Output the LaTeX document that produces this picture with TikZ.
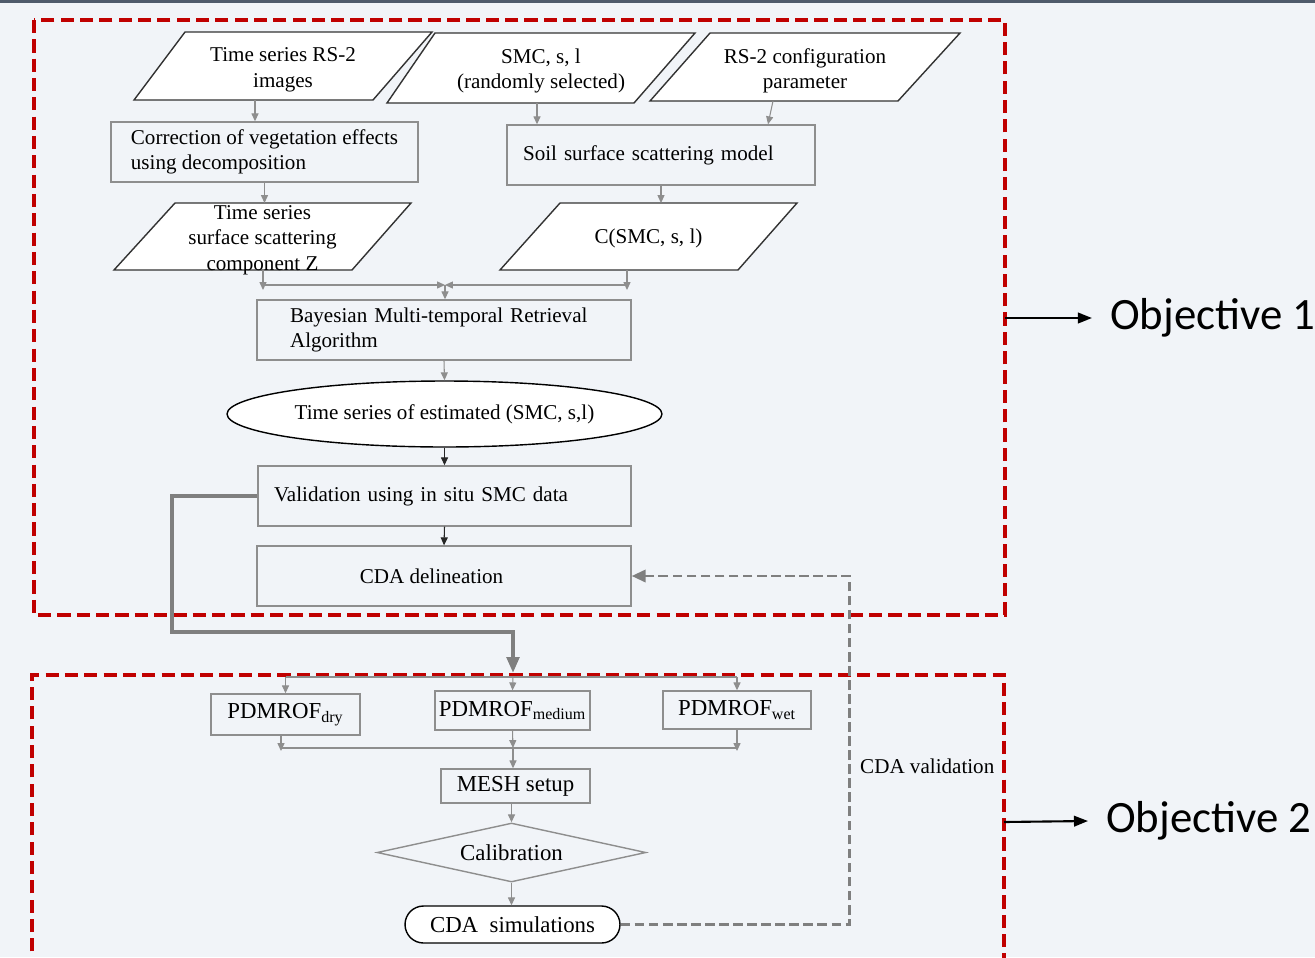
\documentclass[tikz,border=0pt]{standalone}
\usepackage{fontspec}
\setmainfont{Liberation Serif}
\newfontfamily\objfont{Carlito}
\usetikzlibrary{calc}
\usetikzlibrary{arrows.meta}
\usetikzlibrary{shapes.geometric}
\definecolor{bgcol}{HTML}{F1F4F8}
\definecolor{topbar}{HTML}{4F5B6B}
\definecolor{redbox}{HTML}{C00000}
\definecolor{boxgrey}{HTML}{8E8E8E}
\definecolor{flowgrey}{HTML}{7F7F7F}
\tikzset{
  parashape/.style={draw=black!80, fill=white, line width=0.8pt, line join=miter},
  paratext/.style={inner sep=0pt, align=center, font=\fontsize{12}{14.5}\selectfont},
  procbox/.style={rectangle, draw=boxgrey, line width=0.8pt, inner ysep=0pt,
    minimum height=1.2cm, align=left, font=\fontsize{12}{14.5}\selectfont},
  lowbox/.style={rectangle, draw=boxgrey, line width=0.8pt, inner sep=0pt,
    font=\fontsize{13}{15}\selectfont},
  flowline/.style={draw=boxgrey, line width=0.6pt},
  flowarr/.style={flowline, -{Triangle[length=4.5pt,width=4pt]}},
  blackarr/.style={draw=black!85, line width=0.6pt, -{Triangle[length=4.5pt,width=4pt]}},
  thickarr/.style={draw=flowgrey, line width=2.2pt, -{Triangle[length=9pt,width=7pt]}},
  dasharr/.style={draw=flowgrey, line width=1.6pt, dash pattern=on 5.5pt off 2.5pt,
    -{Triangle[length=8pt,width=7pt]}},
  objbox/.style={draw=redbox, line width=2.3pt, dash pattern=on 7.5pt off 3.5pt},
  objarr/.style={draw=black, line width=1.2pt, -{Triangle[length=8pt,width=6pt]}}
}
\begin{document}
\begin{tikzpicture}[x=0.02cm, y=-0.02cm]

\useasboundingbox (0,0) rectangle (1315,957);
\fill[bgcol] (0,0) rectangle (1315,957);
\fill[topbar] (0,0) rectangle (1315,3);

% inputs
\draw[parashape] (134,100) -- (185,32) -- (432,32) -- (373,100) -- cycle;
\draw[parashape] (387,103) -- (435,33) -- (695,33) -- (634,103) -- cycle;
\draw[parashape] (650,101) -- (710,33) -- (960,33) -- (898,101) -- cycle;
\node[paratext] (in1) at (283,70) {Time series RS-2\\images};
\node[paratext] (in2) at (541,71) {SMC, s, l\\(randomly selected)};
\node[paratext] (in3) at (805,71) {RS-2 configuration\\parameter};

\node[procbox, minimum width=6.14cm] (corr) at (264.5,152)
  {Correction of vegetation effects\\using decomposition};
\node[procbox, inner xsep=0.32cm, text width=5.52cm] (soil) at (661,155)
  {Soil surface scattering model\\[10pt]};

\draw[parashape] (114,270) -- (175,203) -- (411,203) -- (352,270) -- cycle;
\draw[parashape] (500,270) -- (560,203) -- (797,203) -- (738,270) -- cycle;
\node[paratext] (zcomp) at (262.5,240) {Time series\\surface scattering\\component Z};
\node[paratext] (csmc) at (648.5,238) {C(SMC, s, l)};

% retrieval chain
\node[procbox, inner xsep=0.66cm, text width=6.16cm] (bayes) at (444,330)
  {Bayesian Multi-temporal Retrieval\\Algorithm};
\node[ellipse, draw=black, fill=white, line width=0.8pt, inner sep=0pt, minimum width=8.7cm, minimum height=1.32cm,
  font=\fontsize{12}{14.5}\selectfont] (est) at (444.5,414)
  {Time series of estimated (SMC, s,l)};
\node[procbox, inner xsep=0.32cm, text width=6.82cm] (valid) at (444.5,496)
  {Validation using in situ SMC data};
\node[procbox, align=center, minimum width=7.48cm] (cda) at (444,576)
  {CDA delineation\hspace{0.5cm}};

% objective 2 chain
\node[lowbox, minimum width=2.98cm, minimum height=0.82cm] (dry) at (285.5,714.5)
  {PDMROF\textsubscript{dry}};
\node[lowbox, minimum width=3.1cm, minimum height=0.78cm] (med) at (512.5,710.5)
  {PDMROF\textsubscript{medium}};
\node[lowbox, minimum width=2.96cm, minimum height=0.76cm] (wet) at (737,710)
  {PDMROF\textsubscript{wet}};
\node[lowbox, minimum width=2.98cm, minimum height=0.68cm] (mesh) at (515.5,786)
  {MESH setup};
\node[diamond, aspect=4.56, draw=boxgrey, line width=0.8pt, inner sep=0pt, minimum width=5.38cm,
  minimum height=1.18cm, font=\fontsize{13}{15}\selectfont] (calib) at (511.5,852.5) {Calibration};
\node[rectangle, rounded corners=0.37cm, draw=black, fill=white, line width=0.8pt, inner sep=0pt,
  minimum width=4.3cm, minimum height=0.74cm, font=\fontsize{13}{15}\selectfont] (sim) at (512.5,924.5)
  {CDA\enspace simulations};

% connectors, top part
\coordinate (in1b) at ($(in1.center)+(-28,30)$);
\coordinate (in2b) at ($(in2.center)+(-4,32)$);
\coordinate (in3b) at ($(in3.center)+(-32,30)$);
\coordinate (soilt) at ($(soil.north)+(107,0)$);
\coordinate (zt) at ($(zcomp.center)+(0,-37)$);
\coordinate (ct) at ($(csmc.center)+(0,-35)$);
\draw[flowarr] (in1b) -- (in1b |- corr.north);
\draw[flowarr] (in2b) -- (in2b |- soil.north);
\draw[flowarr] (in3b) -- (soilt);
\draw[flowarr] (corr.south) -- (corr.south |- zt);
\draw[flowarr] (soil.south) -- (soil.south |- ct);

\coordinate (jm) at (445,285);
\coordinate (zb) at ($(zcomp.center)+(0.5,30)$);
\coordinate (cb) at ($(csmc.center)+(-21.5,32)$);
\draw[flowarr] (zb) -- ($(zb)+(0,20)$);
\draw[flowarr] (cb) -- ($(cb)+(0,20)$);
\draw[flowarr] (jm -| zb) -- (jm);
\draw[flowarr] (jm -| cb) -- (jm);
\draw[flowarr] (jm) -- (jm |- bayes.north);
\draw[flowarr] (bayes.south) -- (est.north);
\draw[blackarr] (est.south) -- (valid.north);
\draw[blackarr] (valid.south) -- (cda.north);

% dashed boxes
\draw[objbox] (34,20) rectangle (1005,615);
\draw[objbox] (32,990) -- (32,675) -- (1004,675) -- (1004,990);

% connectors, lower part
\coordinate (d0) at (513,677);
\draw[flowline] (d0 -| dry.north) -- (d0 -| wet.north);
\draw[flowarr] (d0 -| dry.north) -- (dry.north);
\draw[flowarr] (d0) -- (med.north);
\draw[flowarr] (d0 -| wet.north) -- (wet.north);

\coordinate (m0) at (513,748);
\coordinate (dryb) at ($(dry.south)+(-4.5,0)$);
\draw[flowline] (m0 -| dryb) -- (m0 -| wet.south);
\draw[flowarr] (dryb) -- ($(m0 -| dryb)+(0,3)$);
\draw[flowarr] (wet.south) -- ($(m0 -| wet.south)+(0,3)$);
\draw[flowarr] (med.south) -- (m0);
\draw[flowarr] (m0) -- (m0 |- mesh.north);
\draw[flowarr] (calib.north |- mesh.south) -- (calib.north);
\draw[flowarr] (calib.south) -- (calib.south |- sim.north);

\coordinate (t1) at (172,632);
\coordinate (t2) at (513,673);
\draw[thickarr] (valid.west) -| (t1) -| (t2);

\coordinate (v1) at ($(cda.east)+(218,0)$);
\draw[dasharr] (sim.east) -| (v1) -- (cda.east);
\node[anchor=west, font=\fontsize{12}{14.5}\selectfont] (cdaval) at (854,766) {CDA validation};

% objectives
\coordinate (o1) at (1005,318);
\coordinate (o2) at (1004,822);
\node[anchor=west, font=\objfont\fontsize{25.5}{30}\selectfont] (obj1) at (1104,318) {Objective 1};
\node[anchor=west, font=\objfont\fontsize{25.5}{30}\selectfont] (obj2) at (1100,821) {Objective 2};
\draw[objarr] (o1) -- ($(obj1.west)+(-12,0)$);
\draw[objarr] (o2) -- ($(obj2.west)+(-12,0)$);

\end{tikzpicture}
\end{document}
